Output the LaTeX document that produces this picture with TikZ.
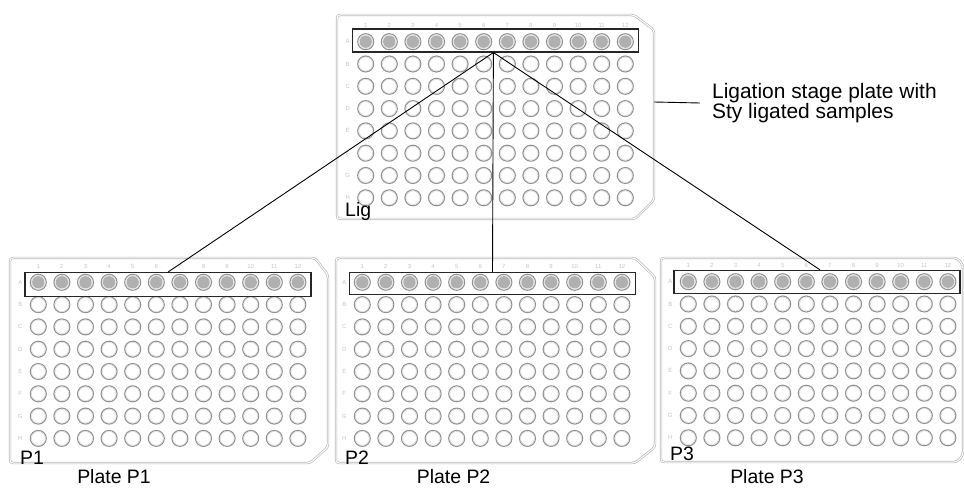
\documentclass[tikz,border=0pt]{standalone}
\usepackage{fontspec}
\setmainfont{Liberation Sans}

% plate outline: left, top, right, bottom, top chamfer x, top chamfer y, bottom chamfer y, bottom chamfer x
\newcommand{\plateoutline}[8]{%
  \draw[plateline] (#1,#2) -- (#5,#2) -- (#3,#6) -- (#3,#7) -- (#8,#4) -- (#1,#4) -- cycle;}

% 8 x 12 grid of wells, column 1 / row A centre given; row A is filled
\newcommand{\wellgrid}[2]{%
  \foreach \c in {1,...,12} {
    \node[tinylabel] at ({#1+(\c-1)*23.6},{#2-16}) {\c};
  }
  \foreach \r [count=\ri from 0] in {A,B,C,D,E,F,G,H} {
    \node[tinylabel] at ({#1-18},{#2+\ri*22.3}) {\r};
    \foreach \c in {1,...,12} {
      \draw[well] ({#1+(\c-1)*23.6},{#2+\ri*22.3}) circle[radius=8bp];
      \draw[wellring] ({#1+(\c-1)*23.6},{#2+\ri*22.3}) circle[radius=6.9bp];
    }
  }
  \foreach \c in {1,...,12} {
    \fill[wellfill] ({#1+(\c-1)*23.6},{#2}) circle[radius=6.2bp];
  }}

\begin{document}
\begin{tikzpicture}[x=1bp,y=-1bp,
  plateline/.style={draw=gray!55, line width=0.7bp, double=white, double distance=1bp, rounded corners=3bp},
  well/.style={draw=gray!85, line width=1.1bp, fill=white},
  wellring/.style={draw=gray!30, line width=0.5bp},
  wellfill/.style={fill=gray!62},
  rowbox/.style={draw=black!85, line width=1.3bp, minimum width=286bp, minimum height=23bp, inner sep=0pt},
  tinylabel/.style={text=gray!45, font=\fontsize{6}{6}\selectfont, inner sep=0pt},
  tag/.style={font=\fontsize{19.5}{19.5}\selectfont, inner sep=0pt, anchor=base west},
  caption/.style={font=\fontsize{19.5}{19.5}\selectfont, inner sep=0pt, anchor=base},
  link/.style={draw=black, line width=0.9bp}]

\useasboundingbox (0,0) rectangle (964,488);
\fill[white] (0,0) rectangle (964,488);

% ligation stage plate
\plateoutline{337}{15}{654}{219}{634}{30}{200}{635}
\wellgrid{365.7}{41.7}
\node[rowbox] (lig-row) at (495.4,40.4) {};
\node[tag] (lig-tag) at (345,217) {Lig};

% plates P1, P2, P3
\plateoutline{10}{258}{328}{463}{315}{275}{447}{310}
\wellgrid{38.3}{282.3}
\node[rowbox, minimum height=24bp] (p1-row) at (168,284.7) {};
\node[tag] (p1-tag) at (20,464) {P1};
\node[caption] (p1-cap) at (114,483) {Plate P1};

\plateoutline{336}{258}{655}{463}{635}{277}{447}{635}
\wellgrid{362.3}{282.3}
\node[rowbox, minimum height=22bp] (p2-row) at (492.5,283.5) {};
\node[tag] (p2-tag) at (345,464) {P2};
\node[caption] (p2-cap) at (453.6,483) {Plate P2};

\plateoutline{661}{258}{963}{462}{957}{265}{455}{957}
\wellgrid{688.3}{281.7}
\node[rowbox] (p3-row) at (817,282) {};
\node[tag] (p3-tag) at (670,460) {P3};
\node[caption] (p3-cap) at (767,483) {Plate P3};

% transfer lines from the ligation row to each plate
\draw[link] ([xshift=-2bp]lig-row.south) -- (p1-row.north);
\draw[link] ([xshift=-2bp]lig-row.south) -- (p2-row.north);
\draw[link] ([xshift=-2bp]lig-row.south) -- ([xshift=3bp]p3-row.north);

% callout
\coordinate (lig-edge) at (654,102);
\node[anchor=west, align=left, inner xsep=12bp, inner ysep=0pt,
      font=\fontsize{21}{19.5}\selectfont] (lig-note) at (700,103)
  {Ligation stage plate with\\Sty ligated samples};
\draw[link] (lig-edge) -- (lig-note.west);
\end{tikzpicture}
\end{document}
